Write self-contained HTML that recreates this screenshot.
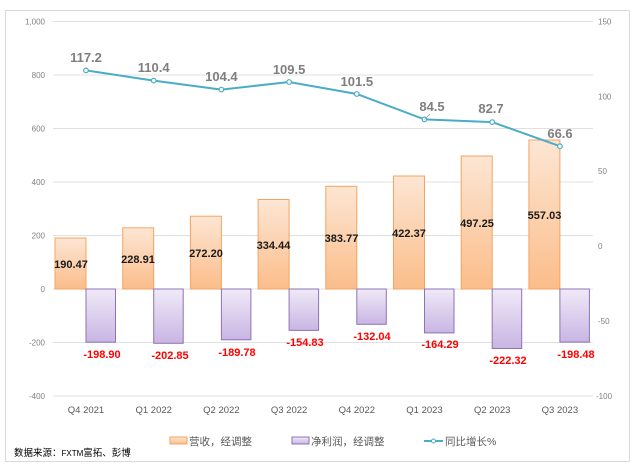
<!DOCTYPE html>
<html><head><meta charset="utf-8"><style>
body{margin:0;background:#fff;}
svg{display:block;font-family:"Liberation Sans","Noto Sans CJK SC",sans-serif;}
</style></head><body>
<svg width="635" height="469" viewBox="0 0 635 469">
<defs>
<linearGradient id="o" x1="0" y1="0" x2="0" y2="1"><stop offset="0" stop-color="#fde6d4"/><stop offset="1" stop-color="#fbbd8a"/></linearGradient>
<linearGradient id="p" x1="0" y1="0" x2="0" y2="1"><stop offset="0" stop-color="#f0eaf8"/><stop offset="1" stop-color="#c9b5e3"/></linearGradient>
</defs>
<rect x="5.5" y="10.5" width="624" height="451" fill="#fff" stroke="#d9d9d9"/>
<g stroke="#e0e0e0" stroke-width="1">
<line x1="53" x2="593" y1="21.5" y2="21.5"/><line x1="53" x2="593" y1="75" y2="75"/><line x1="53" x2="593" y1="128.5" y2="128.5"/><line x1="53" x2="593" y1="182" y2="182"/><line x1="53" x2="593" y1="235.5" y2="235.5"/><line x1="53" x2="593" y1="289" y2="289"/><line x1="53" x2="593" y1="342.5" y2="342.5"/><line x1="53" x2="593" y1="396" y2="396"/>
</g>
<g font-size="8" fill="#7f7f7f" text-anchor="end">
<text x="45" y="24.5">1,000</text><text x="45" y="78">800</text><text x="45" y="131.5">600</text><text x="45" y="185">400</text><text x="45" y="238.5">200</text><text x="45" y="292">0</text><text x="45" y="345.5">-200</text><text x="45" y="399">-400</text>
</g>
<g font-size="8" fill="#7f7f7f">
<text x="598" y="24.5">150</text><text x="598" y="99.5">100</text><text x="598" y="174">50</text><text x="598" y="249">0</text><text x="598" y="324">-50</text><text x="596" y="399">-100</text>
</g>
<g fill="url(#o)" stroke="#f4a461" stroke-width="1">
<rect x="55" y="238" width="31" height="51"/><rect x="122.7" y="227.8" width="31" height="61.2"/><rect x="190.4" y="216.2" width="31" height="72.8"/><rect x="258.1" y="199.5" width="31" height="89.5"/><rect x="325.8" y="186.3" width="31" height="102.7"/><rect x="393.5" y="176" width="31" height="113"/><rect x="461.2" y="156" width="31" height="133"/><rect x="528.9" y="140" width="31" height="149"/>
</g>
<g fill="url(#p)" stroke="#8e74b4" stroke-width="1">
<rect x="86" y="289" width="29.5" height="53.2"/><rect x="153.7" y="289" width="29.5" height="54.3"/><rect x="221.4" y="289" width="29.5" height="50.8"/><rect x="289.1" y="289" width="29.5" height="41.4"/><rect x="356.8" y="289" width="29.5" height="35.3"/><rect x="424.5" y="289" width="29.5" height="43.9"/><rect x="492.2" y="289" width="29.5" height="59.5"/><rect x="559.9" y="289" width="29.5" height="53.1"/>
</g>
<g font-size="11" font-weight="bold" fill="#1a1a1a" text-anchor="middle">
<text x="71" y="268">190.47</text><text x="138" y="263">228.91</text><text x="206" y="257">272.20</text><text x="273.5" y="249">334.44</text><text x="341.5" y="242">383.77</text><text x="409" y="237">422.37</text><text x="477" y="227">497.25</text><text x="544.5" y="219">557.03</text>
</g>
<g font-size="11" font-weight="bold" fill="#ff0000" text-anchor="middle">
<text x="102" y="358">-198.90</text><text x="170" y="359">-202.85</text><text x="237" y="356">-189.78</text><text x="305" y="346">-154.83</text><text x="372" y="340">-132.04</text><text x="440" y="348">-164.29</text><text x="508" y="364">-222.32</text><text x="576" y="358">-198.48</text>
</g>
<polyline fill="none" stroke="#4bacc6" stroke-width="2" points="86,70.4 153.7,80.6 221.4,89.6 289.1,82 356.8,94 424.5,119.4 492.2,122.1 559.9,146.2"/>
<g fill="#fff" stroke="#4bacc6" stroke-width="1.2">
<circle cx="86" cy="70.4" r="2.3"/><circle cx="153.7" cy="80.6" r="2.3"/><circle cx="221.4" cy="89.6" r="2.3"/><circle cx="289.1" cy="82" r="2.3"/><circle cx="356.8" cy="94" r="2.3"/><circle cx="424.5" cy="119.4" r="2.3"/><circle cx="492.2" cy="122.1" r="2.3"/><circle cx="559.9" cy="146.2" r="2.3"/>
</g>
<line x1="424.5" y1="119.4" x2="430" y2="114" stroke="#999" stroke-width="0.7"/>
<g font-size="13" font-weight="bold" fill="#7f7f7f" text-anchor="middle">
<text x="86" y="62">117.2</text><text x="153.7" y="72">110.4</text><text x="221.4" y="81">104.4</text><text x="289.1" y="74">109.5</text><text x="356.8" y="86">101.5</text><text x="432" y="111">84.5</text><text x="491" y="113">82.7</text><text x="560" y="138">66.6</text>
</g>
<g font-size="9.5" fill="#595959" text-anchor="middle">
<text x="86" y="413">Q4 2021</text><text x="153.7" y="413">Q1 2022</text><text x="221.4" y="413">Q2 2022</text><text x="289.1" y="413">Q3 2022</text><text x="356.8" y="413">Q4 2022</text><text x="424.5" y="413">Q1 2023</text><text x="492.2" y="413">Q2 2023</text><text x="559.9" y="413">Q3 2023</text>
</g>
<rect x="170" y="437" width="17" height="7" fill="url(#o)" stroke="#f4a461"/>
<text x="189" y="445" font-size="10.5" fill="#595959">营收，经调整</text>
<rect x="292" y="437" width="17" height="7" fill="url(#p)" stroke="#8e74b4"/>
<text x="311" y="445" font-size="10.5" fill="#595959">净利润，经调整</text>
<line x1="424" x2="443" y1="441" y2="441" stroke="#4bacc6" stroke-width="2"/>
<circle cx="433.5" cy="441" r="2" fill="#fff" stroke="#4bacc6"/>
<text x="445" y="445" font-size="10.5" fill="#595959">同比增长%</text>
<text x="14" y="456" font-size="9.5" fill="#000">数据来源：<tspan font-size="8">FXTM</tspan>富拓、彭博</text>
</svg>
</body></html>
